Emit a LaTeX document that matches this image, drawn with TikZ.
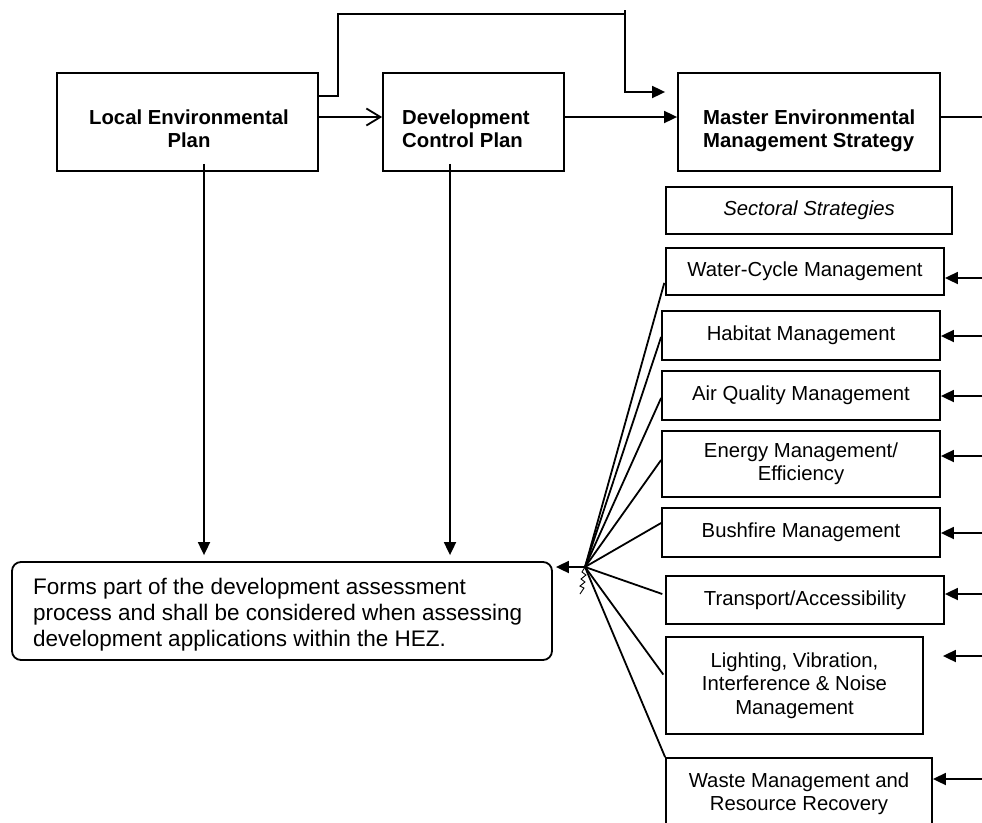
\documentclass[tikz,border=0pt]{standalone}
\usepackage{fontspec}
\setmainfont{Liberation Sans}
\usetikzlibrary{arrows.meta}
\begin{document}
\begin{tikzpicture}[x=1pt,y=-1pt,
  lw/.style={line width=1.8pt},
  labelfont/.style={font=\fontsize{20.3pt}{23.3pt}\selectfont},
  box/.style={draw,lw,inner sep=0pt,align=center,labelfont},
  title/.style={inner sep=0pt,font=\bfseries\fontsize{20.3pt}{23.3pt}\selectfont},
  conn/.style={lw},
  arr/.style={lw,-{Triangle[length=13pt,width=12pt]}},
  barb/.style={lw,-{Straight Barb[length=14pt,width=17pt,line width=1.8pt]}},
]
\useasboundingbox (0,0) rectangle (982,822);
\clip (0,0) rectangle (982,822);

% plan boxes along the top
\node[box,minimum width=261pt,minimum height=98pt] (lep) at (187.5,122) {};
\node[title,align=center] (leptext) at (189,128.4) {Local Environmental\\Plan};
\node[box,minimum width=181pt,minimum height=98pt] (dcp) at (473.5,122) {};
\node[title,align=left,anchor=west] (dcptext) at (402,128.4) {Development\\Control Plan};
\node[box,minimum width=262pt,minimum height=98pt] (mems) at (809,122) {};
\node[title,align=left,anchor=west] (memstext) at (703,130.5) {Master Environmental\\Management Strategy};

% sectoral strategies column
\node[box,minimum width=286pt,minimum height=47pt,font=\itshape\fontsize{20.3pt}{23.3pt}\selectfont] (sec) at (809,210.5) {Sectoral Strategies};
\node[box,minimum width=278pt,minimum height=47pt] (wcm) at (805,271.5) {Water-Cycle Management};
\node[box,minimum width=278pt,minimum height=49pt] (hab) at (801,335.5) {Habitat Management};
\node[box,minimum width=278pt,minimum height=49pt] (air) at (801,395.5) {Air Quality Management};
\node[box,minimum width=278pt,minimum height=66pt] (ene) at (801,464) {Energy Management/\\Efficiency};
\node[box,minimum width=278pt,minimum height=49pt] (bus) at (801,532.5) {Bushfire Management};
\node[box,minimum width=278pt,minimum height=48pt] (tra) at (805,600) {Transport/Accessibility};
\node[box,minimum width=257pt,minimum height=97pt] (lig) at (794.5,685.5) {Lighting, Vibration,\\Interference \& Noise\\Management};
\node[box,minimum width=266pt,minimum height=71pt] (was) at (799,793.5) {Waste Management and\\Resource Recovery};

% assessment box
\node[draw,lw,rounded corners=9pt,minimum width=540pt,minimum height=98pt,inner sep=0pt] (rbox) at (282,611) {};
\node[inner sep=0pt,align=left,anchor=west,font=\fontsize{22.5pt}{25.9pt}\selectfont] (rtext) at (33,615)
  {Forms part of the development assessment\\process and shall be considered when assessing\\development applications within the HEZ.};

% top row connectors
\draw[barb] (lep.east |- 0,117) -- (dcp.west |- 0,117);
\draw[arr] (dcp.east |- 0,117) -- (mems.west |- 0,117);
\coordinate (mout) at (982,117);
\draw[conn] (mems.east |- 0,117) -- (mout);
\draw[conn] (lep.east |- 0,96) -- (338,96) -- (338,14) -- (625,14);
\draw[arr,shorten >=12pt] (625,10) -- (625,92) -- (mems.west |- 0,92);

% plans feed the assessment
\draw[arr,shorten <=-8pt,shorten >=6pt] (lep.south -| 204,0) -- (rbox.north -| 204,0);
\draw[arr,shorten <=-8pt,shorten >=6pt] (dcp.south -| 450,0) -- (rbox.north -| 450,0);

% strategies gathered into the assessment
\coordinate (hub) at (585,567);
\draw[arr,shorten >=3pt] (hub) -- (rbox.east |- hub);
\draw[conn,shorten >=3pt] (hub) -- (wcm.west |- 0,280);
\draw[conn] (hub) -- (hab.west |- 0,337);
\draw[conn] (hub) -- (air.west |- 0,398);
\draw[conn] (hub) -- (ene.west |- 0,460);
\draw[conn] (hub) -- (bus.west |- 0,523);
\draw[conn,shorten >=3pt] (hub) -- (tra.west |- 0,595);
\draw[conn,shorten >=3pt] (hub) -- (lig.west |- 0,677);
\draw[conn] (hub) -- (was.north west);
\draw[line width=0.9pt] (hub) -- (582,572) -- (586,575) -- (581,579) -- (585,582) -- (580,586) -- (584,588) -- (580,594);

% strategy inputs from the right
\coordinate (r1) at (982,278);
\coordinate (r2) at (982,336);
\coordinate (r3) at (982,396);
\coordinate (r4) at (982,456);
\coordinate (r5) at (982,533);
\coordinate (r6) at (982,594);
\coordinate (r7) at (982,656);
\coordinate (r8) at (982,779);
\draw[arr] (r1) -- (r1 -| wcm.east);
\draw[arr] (r2) -- (r2 -| hab.east);
\draw[arr] (r3) -- (r3 -| air.east);
\draw[arr] (r4) -- (r4 -| ene.east);
\draw[arr] (r5) -- (r5 -| bus.east);
\draw[arr] (r6) -- (r6 -| tra.east);
\draw[arr,shorten >=19pt] (r7) -- (r7 -| lig.east);
\draw[arr] (r8) -- (r8 -| was.east);
\end{tikzpicture}
\end{document}
